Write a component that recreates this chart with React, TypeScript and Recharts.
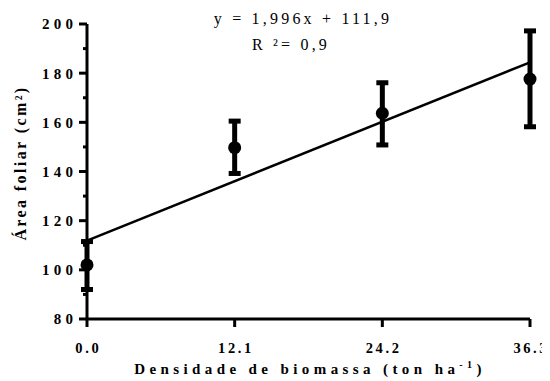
import React from 'react';
import { ComposedChart, Scatter, Line, XAxis, YAxis, ErrorBar } from 'recharts';

const densities = [0, 12.1, 24.2, 36.3];
const meanArea = [102, 149.7, 163.7, 177.6];
const errLow = [10, 10.5, 12.9, 19.4];
const errHigh = [9.5, 10.8, 12.4, 19.6];
const fitX = [0, 36.3];
const fitY = [111.9, 184.4];
const xTicks = [0, 12.1, 24.2, 36.3];
const yTicks = [80, 90, 100, 110, 120, 130, 140, 150, 160, 170, 180, 190, 200];

const points = densities.map((x, i) => ({ x, y: meanArea[i], err: [errLow[i], errHigh[i]] }));
const fitLine = fitX.map((x, i) => ({ x, y: fitY[i] }));

const FONT = 'Liberation Serif, Times New Roman, serif';
const Y_LS = 4.2;
const X_LS = 2.6;
const serif = { fontFamily: FONT };

const YTick = (props: any) => {
  const { x, y, payload } = props;
  const v = payload.value;
  const major = v % 20 === 0;
  return (
    <g>
      <line x1={x} x2={x - (major ? 8 : 4)} y1={y} y2={y} stroke="#000" strokeWidth={3} />
      {major && (
        <text x={x - 14 + Y_LS} y={y} dy="0.36em" textAnchor="end" style={serif} fontWeight="bold" fontSize={15} letterSpacing={Y_LS} fill="#000">
          {v}
        </text>
      )}
    </g>
  );
};

const XTick = (props: any) => {
  const { x, y, payload } = props;
  return (
    <g>
      <line x1={x} x2={x} y1={y} y2={y + 8} stroke="#000" strokeWidth={3} />
      <text x={x + X_LS / 2} y={y + 34} textAnchor="middle" style={serif} fontWeight="bold" fontSize={14.5} letterSpacing={X_LS} fill="#000">
        {Number(payload.value).toFixed(1)}
      </text>
    </g>
  );
};

const Dot = (props: any) => {
  const { cx, cy } = props;
  return <circle cx={cx} cy={cy} r={6.5} fill="#000" />;
};

export default function App() {
  return (
    <div style={{ margin: '-8px 0 0 -8px', width: 550, height: 381 }}>
      <ComposedChart width={550} height={381} margin={{ top: 24, right: 20, bottom: 32, left: 0 }} style={{ overflow: 'visible' }}>
        <XAxis
          dataKey="x"
          type="number"
          domain={[0, 36.3]}
          ticks={xTicks}
          interval={0}
          height={30}
          tickSize={0}
          tickMargin={0}
          tickLine={false}
          axisLine={{ stroke: '#000', strokeWidth: 3 }}
          tick={<XTick />}
        />
        <YAxis
          dataKey="y"
          type="number"
          domain={[80, 200]}
          ticks={yTicks}
          interval={0}
          width={87}
          tickSize={0}
          tickMargin={0}
          tickLine={false}
          axisLine={{ stroke: '#000', strokeWidth: 3 }}
          tick={<YTick />}
        />
        <Line data={fitLine} dataKey="y" type="linear" stroke="#000" strokeWidth={2.5} dot={false} isAnimationActive={false} />
        <Scatter data={points} dataKey="y" fill="#000" shape={<Dot />} isAnimationActive={false}>
          <ErrorBar dataKey="err" direction="y" width={6} strokeWidth={5} stroke="#000" isAnimationActive={false} />
        </Scatter>
        <text x={303} y={24} textAnchor="middle" style={serif} fontSize={16} letterSpacing={3.2} fill="#000">
          y = 1,996x + 111,9
        </text>
        <text x={291} y={50} textAnchor="middle" style={serif} fontSize={16} letterSpacing={3.2} fill="#000">
          R ²= 0,9
        </text>
        <text transform="translate(26,163) rotate(-90)" x={0} y={0} textAnchor="middle" style={serif} fontWeight="bold" fontSize={16} letterSpacing={2.4} fill="#000">
          Área foliar (cm²)
        </text>
        <text x={310} y={374} textAnchor="middle" style={serif} fontWeight="bold" fontSize={15} letterSpacing={4.4} fill="#000">
          Densidade de biomassa (ton ha<tspan dy={-6} fontSize={10}>-1</tspan><tspan dy={6}>)</tspan>
        </text>
      </ComposedChart>
    </div>
  );
}
